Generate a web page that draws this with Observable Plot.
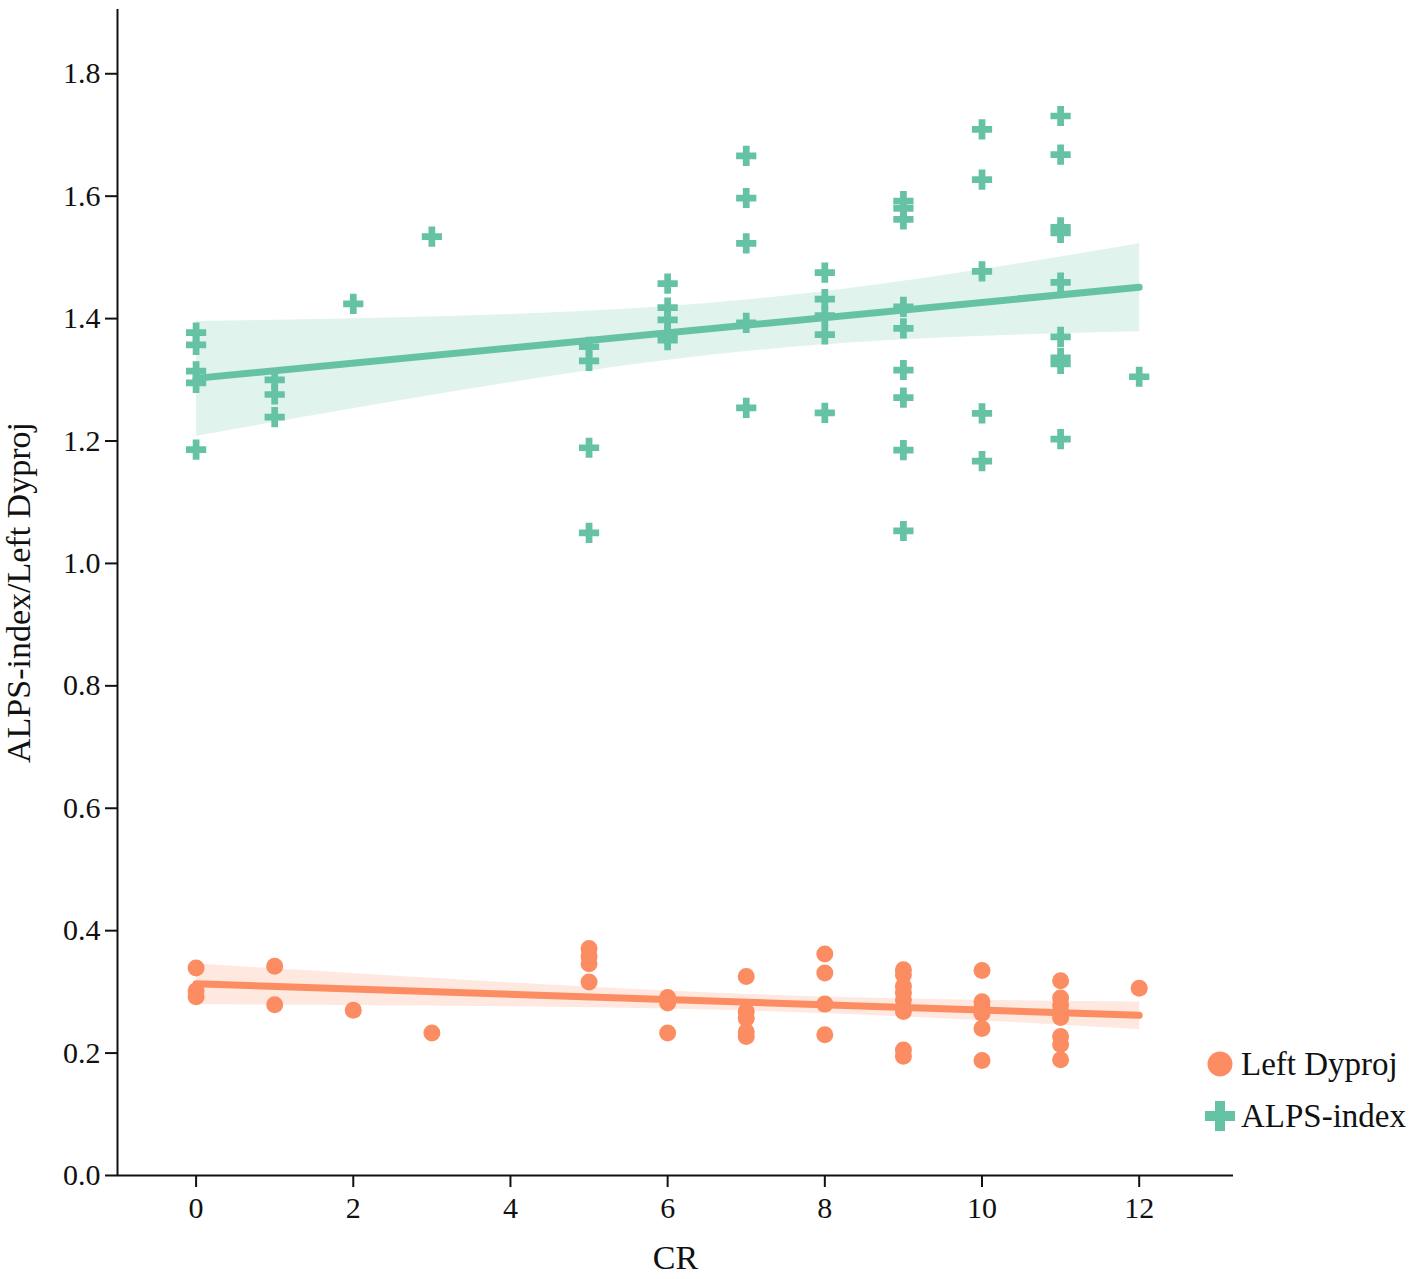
<!DOCTYPE html>
<html>
<head>
<meta charset="utf-8">
<script src="https://cdn.jsdelivr.net/npm/d3@7"></script>
<script src="https://cdn.jsdelivr.net/npm/@observablehq/plot@0.6"></script>
<style>
  html, body { margin: 0; padding: 0; background: #fff; }
  #wrap { position: relative; width: 1417px; height: 1279px; font-family: "Liberation Serif", "DejaVu Serif", serif; }
  #wrap svg { display: block; max-width: none; }
  #legend { position: absolute; left: 1204px; top: 1038px; font-size: 33px; color: #111; }
  #legend .row { display: flex; align-items: center; height: 52px; }
  #legend svg { margin-right: 5px; }
</style>
</head>
<body>
<div id="wrap"><div id="legend"></div></div>
<script>
// ---- data ----
const seriesNames = ["Left Dyproj", "ALPS-index"];
const seriesColors = ["#fc8d62", "#66c2a5"];

const alpsCR = [
  0,0,0,0,0,
  1,1,1,
  2,
  3,
  5,5,5,5,
  6,6,6,6,6,
  7,7,7,7,7,
  8,8,8,8,8,
  9,9,9,9,9,9,9,9,9,
  10,10,10,10,10,
  11,11,11,11,11,11,11,11,11,
  12
];
const alpsValue = [
  1.377,1.357,1.314,1.295,1.186,
  1.300,1.276,1.239,
  1.424,
  1.534,
  1.354,1.331,1.189,1.050,
  1.457,1.418,1.398,1.375,1.365,
  1.666,1.597,1.523,1.393,1.254,
  1.475,1.432,1.405,1.374,1.246,
  1.592,1.580,1.562,1.419,1.384,1.316,1.271,1.185,1.053,
  1.709,1.627,1.477,1.245,1.167,
  1.731,1.668,1.549,1.540,1.459,1.370,1.336,1.326,1.203,
  1.305
];

const dyprojCR = [
  0,0,0,
  1,1,
  2,
  3,
  5,5,5,5,
  6,6,6,
  7,7,7,7,7,
  8,8,8,8,
  9,9,9,9,9,9,9,9,9,
  10,10,10,10,10,10,
  11,11,11,11,11,11,11,11,
  12
];
const dyprojValue = [
  0.339,0.302,0.292,
  0.342,0.279,
  0.270,
  0.233,
  0.371,0.358,0.346,0.316,
  0.291,0.282,0.233,
  0.325,0.268,0.257,0.235,0.227,
  0.362,0.331,0.280,0.230,
  0.336,0.328,0.309,0.298,0.287,0.274,0.268,0.205,0.195,
  0.335,0.284,0.275,0.265,0.240,0.188,
  0.318,0.290,0.279,0.268,0.258,0.227,0.214,0.189,
  0.306
];

const xTicks = [0, 2, 4, 6, 8, 10, 12];
const yTicks = [0, 0.2, 0.4, 0.6, 0.8, 1.0, 1.2, 1.4, 1.6, 1.8];
const xDomain = [-1, 13.2];
const yDomain = [0, 1.905];

// ---- build tables ----
const dyproj = dyprojCR.map((cr, i) => ({ cr, value: dyprojValue[i], series: seriesNames[0] }));
const alps = alpsCR.map((cr, i) => ({ cr, value: alpsValue[i], series: seriesNames[1] }));

const chart = Plot.plot({
  width: 1417,
  height: 1279,
  marginLeft: 117,
  marginRight: 184,
  marginTop: 9,
  marginBottom: 104,
  style: { fontFamily: "Liberation Serif, DejaVu Serif, serif", fontSize: "30px", color: "#111", background: "#fff" },
  x: { domain: xDomain },
  y: { domain: yDomain },
  marks: [
    Plot.dot(dyproj, { x: "cr", y: "value", r: 8.5, fill: seriesColors[0], stroke: "none" }),
    Plot.linearRegressionY(dyproj, { x: "cr", y: "value", stroke: seriesColors[0], fill: seriesColors[0], fillOpacity: 0.2, strokeWidth: 7, strokeLinecap: "round", ci: 0.95 }),
    Plot.dot(alps, { x: "cr", y: "value", r: 8.5, symbol: "cross", fill: seriesColors[1], stroke: "none" }),
    Plot.linearRegressionY(alps, { x: "cr", y: "value", stroke: seriesColors[1], fill: seriesColors[1], fillOpacity: 0.2, strokeWidth: 7, strokeLinecap: "round", ci: 0.95 }),
    Plot.axisX({ ticks: xTicks, tickSize: 12, tickPadding: 9, strokeWidth: 2, label: "CR", labelAnchor: "center", labelArrow: "none", labelOffset: 93, fontSize: 30 }),
    Plot.axisY({ ticks: yTicks, tickFormat: d3.format(".1f"), tickSize: 12, tickPadding: 5, strokeWidth: 2, label: "ALPS-index/Left Dyproj", labelAnchor: "center", labelOffset: 112, labelArrow: "none", fontSize: 30 }),
    Plot.ruleX([xDomain[0]], { stroke: "#111", strokeWidth: 2 }),
    Plot.ruleY([yDomain[0]], { stroke: "#111", strokeWidth: 2 })
  ]
});

const wrap = document.getElementById("wrap");
wrap.insertBefore(chart, wrap.firstChild);

chart.querySelectorAll("[aria-label='x-axis label'] text, [aria-label='y-axis label'] text").forEach(t => t.setAttribute("font-size", "34"));

// ---- legend ----
const legend = document.getElementById("legend");
const crossPath = "M-5,-15h10v10h10v10h-10v10h-10v-10h-10v-10h10z";
seriesNames.forEach((name, i) => {
  const row = document.createElement("div");
  row.className = "row";
  const sw = i === 0
    ? `<svg width="32" height="32" viewBox="-16 -16 32 32"><circle r="12.5" fill="${seriesColors[i]}"/></svg>`
    : `<svg width="32" height="32" viewBox="-16 -16 32 32"><path d="${crossPath}" fill="${seriesColors[i]}"/></svg>`;
  row.innerHTML = sw + `<span>${name}</span>`;
  legend.appendChild(row);
});
</script>
</body>
</html>
